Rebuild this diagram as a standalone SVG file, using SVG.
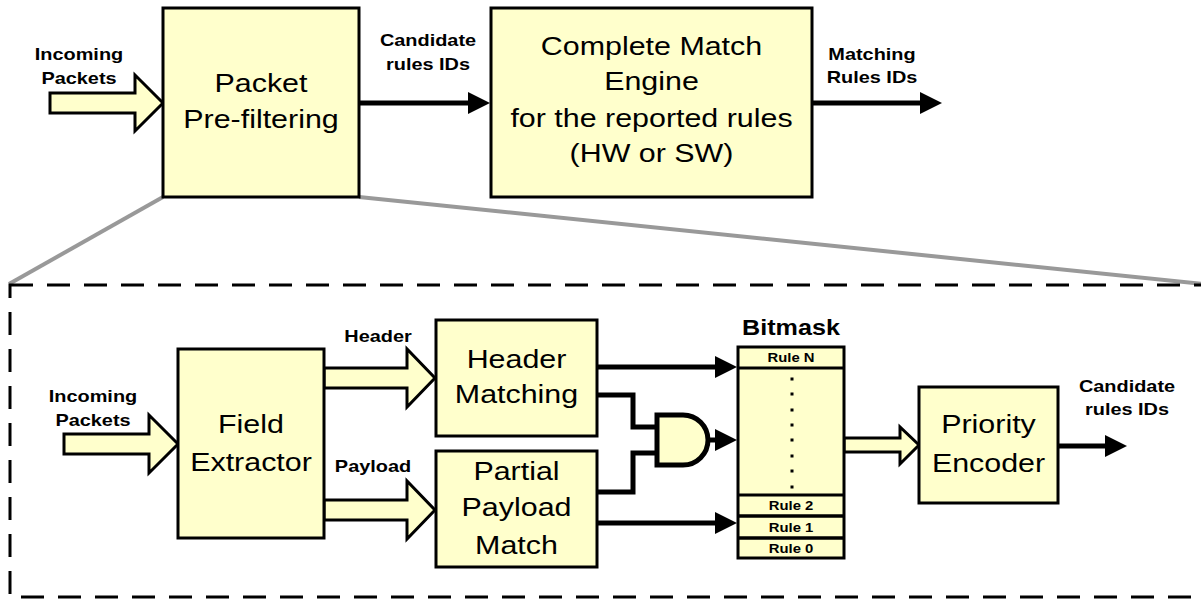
<svg xmlns="http://www.w3.org/2000/svg" width="1201" height="602" viewBox="0 0 1201 602">
  <style>
    .box { fill: #FFFFCC; stroke: #000; stroke-width: 3; }
    .blk { fill: #FFFFCC; stroke: #000; stroke-width: 3; stroke-linejoin: miter; }
    .wire { fill: none; stroke: #000; stroke-width: 5; }
    .zoom { fill: none; stroke: #999; stroke-width: 4; }
    .frame { fill: none; stroke: #000; stroke-width: 3; stroke-dasharray: 23 14; }
    .big { font-family: "Liberation Sans", Arial, sans-serif; font-size: 26px; text-anchor: middle; fill: #000; }
    .lbl { font-family: "Liberation Sans", Arial, sans-serif; font-size: 17px; font-weight: bold; text-anchor: middle; fill: #000; }
    .rule { font-family: "Liberation Sans", Arial, sans-serif; font-size: 13.5px; font-weight: bold; text-anchor: middle; fill: #000; }
    .title { font-family: "Liberation Sans", Arial, sans-serif; font-size: 21.5px; font-weight: bold; text-anchor: middle; fill: #000; }
  </style>
  <defs>
    <marker id="arrow" markerUnits="userSpaceOnUse" markerWidth="22" markerHeight="22" refX="4" refY="11" orient="auto">
      <path d="M0,0 L22,11 L0,22 Z" fill="#000"/>
    </marker>
  </defs>

  <!-- zoom-out guides from the pre-filter block to the detail frame -->
  <g id="zoom-guides">
    <line class="zoom" x1="163" y1="197" x2="9" y2="284"/>
    <line class="zoom" x1="359" y1="197" x2="1203" y2="284"/>
  </g>

  <!-- detail frame -->
  <g id="detail-frame">
    <rect class="frame" x="10" y="285" width="1230" height="312"/>
  </g>

  <!-- connectors -->
  <g id="connectors">
    <!-- top level -->
    <polygon class="blk" points="50,93 135,93 135,75 163,103 135,131 135,113 50,113"/>
    <line class="wire" x1="359" y1="103" x2="472" y2="103" marker-end="url(#arrow)"/>
    <line class="wire" x1="812" y1="103" x2="924" y2="103" marker-end="url(#arrow)"/>

    <!-- detail level -->
    <polygon class="blk" points="64,434 149,434 149,415 178,444 149,473 149,454 64,454"/>
    <polygon class="blk" points="324,368 407,368 407,349 435,378 407,407 407,388 324,388"/>
    <polygon class="blk" points="324,500 407,500 407,481 435,510 407,539 407,520 324,520"/>
    <line class="wire" x1="597" y1="367" x2="719" y2="367" marker-end="url(#arrow)"/>
    <line class="wire" x1="597" y1="523" x2="719" y2="523" marker-end="url(#arrow)"/>
    <path class="wire" d="M597,395 H633 V427 H657"/>
    <path class="wire" d="M597,492 H633 V453 H657"/>
    <line class="wire" x1="707" y1="440" x2="719" y2="440" marker-end="url(#arrow)"/>
    <polygon class="blk" points="844,438 900,438 900,427 919,445 900,464 900,452 844,452"/>
    <line class="wire" x1="1058" y1="446" x2="1109" y2="446" marker-end="url(#arrow)"/>
  </g>

  <!-- top-level labels -->
  <g id="lbl-in-top">
    <text class="lbl" transform="translate(79,60) scale(1.17,1)">Incoming</text>
    <text class="lbl" transform="translate(79,84) scale(1.17,1)">Packets</text>
  </g>
  <g id="lbl-cand-top">
    <text class="lbl" transform="translate(428,46) scale(1.17,1)">Candidate</text>
    <text class="lbl" transform="translate(428,70) scale(1.17,1)">rules IDs</text>
  </g>
  <g id="lbl-matching">
    <text class="lbl" transform="translate(872,60) scale(1.17,1)">Matching</text>
    <text class="lbl" transform="translate(872,83) scale(1.17,1)">Rules IDs</text>
  </g>

  <g id="prefilter">
    <rect class="box" x="163" y="8" width="196" height="189"/>
    <text class="big" transform="translate(261,92) scale(1.17,1)">Packet</text>
    <text class="big" transform="translate(261,128) scale(1.17,1)">Pre-filtering</text>
  </g>

  <g id="complete-match">
    <rect class="box" x="491" y="8" width="321" height="189"/>
    <text class="big" transform="translate(651.5,55) scale(1.17,1)">Complete Match</text>
    <text class="big" transform="translate(651.5,90) scale(1.17,1)">Engine</text>
    <text class="big" transform="translate(651.5,127) scale(1.17,1)">for the reported rules</text>
    <text class="big" transform="translate(651.5,162) scale(1.17,1)">(HW or SW)</text>
  </g>

  <!-- detail-level labels -->
  <g id="lbl-in-detail">
    <text class="lbl" transform="translate(93,402) scale(1.17,1)">Incoming</text>
    <text class="lbl" transform="translate(93,426) scale(1.17,1)">Packets</text>
  </g>
  <g id="lbl-header">
    <text class="lbl" transform="translate(378,342) scale(1.17,1)">Header</text>
  </g>
  <g id="lbl-payload">
    <text class="lbl" transform="translate(373,472) scale(1.17,1)">Payload</text>
  </g>
  <g id="lbl-cand-detail">
    <text class="lbl" transform="translate(1127,392) scale(1.17,1)">Candidate</text>
    <text class="lbl" transform="translate(1127,415) scale(1.17,1)">rules IDs</text>
  </g>

  <g id="field-extractor">
    <rect class="box" x="178" y="349" width="146" height="189"/>
    <text class="big" transform="translate(251,433) scale(1.17,1)">Field</text>
    <text class="big" transform="translate(251,471) scale(1.17,1)">Extractor</text>
  </g>

  <g id="header-matching">
    <rect class="box" x="436" y="320" width="161" height="116"/>
    <text class="big" transform="translate(516.5,368) scale(1.17,1)">Header</text>
    <text class="big" transform="translate(516.5,403) scale(1.17,1)">Matching</text>
  </g>

  <g id="payload-match">
    <rect class="box" x="436" y="451" width="161" height="116"/>
    <text class="big" transform="translate(516.5,480) scale(1.17,1)">Partial</text>
    <text class="big" transform="translate(516.5,516) scale(1.17,1)">Payload</text>
    <text class="big" transform="translate(516.5,554) scale(1.17,1)">Match</text>
  </g>

  <g id="and-gate">
    <path d="M657,415 H683 A25,25 0 0 1 683,465 H657 Z" fill="#FFFFCC" stroke="#000" stroke-width="5"/>
  </g>

  <g id="bitmask">
    <text class="title" transform="translate(791,335) scale(1.17,1)">Bitmask</text>
    <rect class="box" x="738" y="347" width="106" height="211"/>
    <line x1="738" y1="368" x2="844" y2="368" stroke="#000" stroke-width="3"/>
    <line x1="738" y1="495" x2="844" y2="495" stroke="#000" stroke-width="3"/>
    <line x1="738" y1="516" x2="844" y2="516" stroke="#000" stroke-width="3.5"/>
    <line x1="738" y1="538" x2="844" y2="538" stroke="#000" stroke-width="3.5"/>
    <text class="rule" transform="translate(791,362) scale(1.1,1)">Rule N</text>
    <g fill="#000">
      <rect x="790.5" y="377.5" width="3" height="3"/>
      <rect x="790.5" y="392.5" width="3" height="3"/>
      <rect x="790.5" y="408.5" width="3" height="3"/>
      <rect x="790.5" y="423.5" width="3" height="3"/>
      <rect x="790.5" y="438.5" width="3" height="3"/>
      <rect x="790.5" y="454.5" width="3" height="3"/>
      <rect x="790.5" y="469.5" width="3" height="3"/>
      <rect x="790.5" y="485.5" width="3" height="3"/>
    </g>
    <text class="rule" transform="translate(791,510) scale(1.1,1)">Rule 2</text>
    <text class="rule" transform="translate(791,532) scale(1.1,1)">Rule 1</text>
    <text class="rule" transform="translate(791,553) scale(1.1,1)">Rule 0</text>
  </g>

  <g id="priority-encoder">
    <rect class="box" x="919" y="387" width="139" height="116"/>
    <text class="big" transform="translate(988.5,433) scale(1.17,1)">Priority</text>
    <text class="big" transform="translate(988.5,472) scale(1.17,1)">Encoder</text>
  </g>
</svg>
